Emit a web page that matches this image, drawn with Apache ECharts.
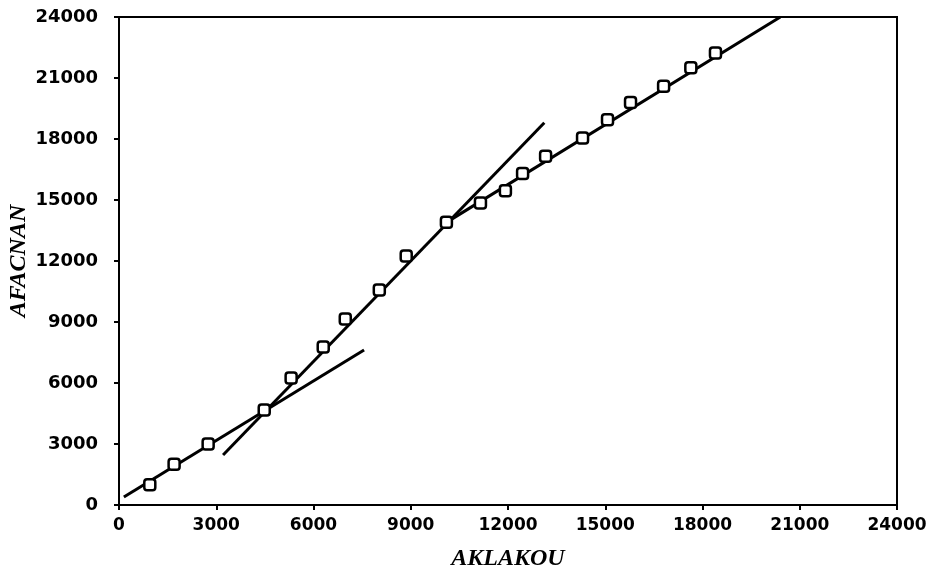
<!DOCTYPE html>
<html>
<head>
<meta charset="utf-8">
<script src="https://cdn.jsdelivr.net/npm/echarts@6/dist/echarts.min.js"></script>
<style>
  html, body { margin: 0; padding: 0; background: #fff; }
  #chart { width: 932px; height: 571px; }
</style>
</head>
<body>
<div id="chart"></div>
<script>
// 数据点 (AKLAKOU, AFACNAN)
const aklakou = [950, 1700, 2750, 4480, 5310, 6300, 6980, 8030, 8860, 10100,
  11150, 11920, 12450, 13160, 14300, 15070, 15780, 16800, 17640, 18400]
const afacnan = [1000, 2000, 3000, 4670, 6250, 7770, 9150, 10570, 12250, 13900,
  14850, 15450, 16300, 17150, 18050, 18950, 19800, 20600, 21500, 22230]

// 三条拟合线 [起点, 终点]
const fitLow = [[150, 390], [7560, 7620]]
const fitMid = [[3210, 2460], [13120, 18800]]
const fitHigh = [[10100, 13900], [20400, 24000]]

const ticks = [0, 3000, 6000, 9000, 12000, 15000, 18000, 21000, 24000]

const points = aklakou.map((x, i) => [x, afacnan[i]])

const myChart = echarts.init(document.getElementById('chart'))

const labelFont = {
  color: '#000',
  fontFamily: 'DejaVu Sans',
  fontWeight: 'bold',
  formatter: (v) => String(v) // 不要千分位
}

const titleFont = {
  color: '#000',
  fontFamily: 'Liberation Serif',
  fontStyle: 'italic',
  fontWeight: 'bold',
  fontSize: 24
}

const fitLine = (data) => ({
  type: 'line',
  data: data,
  symbol: 'none',
  silent: true,
  lineStyle: { color: '#000', width: 3 },
  z: 2
})

const options = {
  animation: false,
  grid: {
    left: 119,
    right: 35,
    top: 17,
    bottom: 66,
    outerBoundsMode: 'none', // 固定绘图区位置
    show: true,
    borderColor: '#000',
    borderWidth: 2,
    backgroundColor: 'transparent'
  },
  xAxis: {
    type: 'value',
    min: ticks[0],
    max: ticks[ticks.length - 1],
    interval: 3000,
    name: 'AKLAKOU',
    nameLocation: 'middle',
    nameGap: 42,
    nameMoveOverlap: false,
    nameTextStyle: titleFont,
    axisLine: { lineStyle: { color: '#000', width: 2 } },
    axisTick: { show: true, length: 5, lineStyle: { color: '#000', width: 2 } },
    axisLabel: Object.assign({ margin: 12, fontSize: 17 }, labelFont),
    splitLine: { show: false }
  },
  yAxis: {
    type: 'value',
    min: ticks[0],
    max: ticks[ticks.length - 1],
    interval: 3000,
    name: 'AFACNAN',
    nameLocation: 'middle',
    nameGap: 88,
    nameMoveOverlap: false,
    nameTextStyle: titleFont,
    axisLine: { lineStyle: { color: '#000', width: 2 } },
    axisTick: { show: true, length: 5, lineStyle: { color: '#000', width: 2 } },
    axisLabel: Object.assign({ margin: 21, fontSize: 18 }, labelFont),
    splitLine: { show: false }
  },
  series: [
    fitLine(fitLow),
    fitLine(fitMid),
    fitLine(fitHigh),
    {
      type: 'scatter',
      data: points,
      symbol: 'roundRect',
      symbolSize: 11,
      itemStyle: { color: '#fff', borderColor: '#000', borderWidth: 2.5, opacity: 1 },
      z: 3
    }
  ]
}
myChart.setOption(options)
</script>
</body>
</html>
